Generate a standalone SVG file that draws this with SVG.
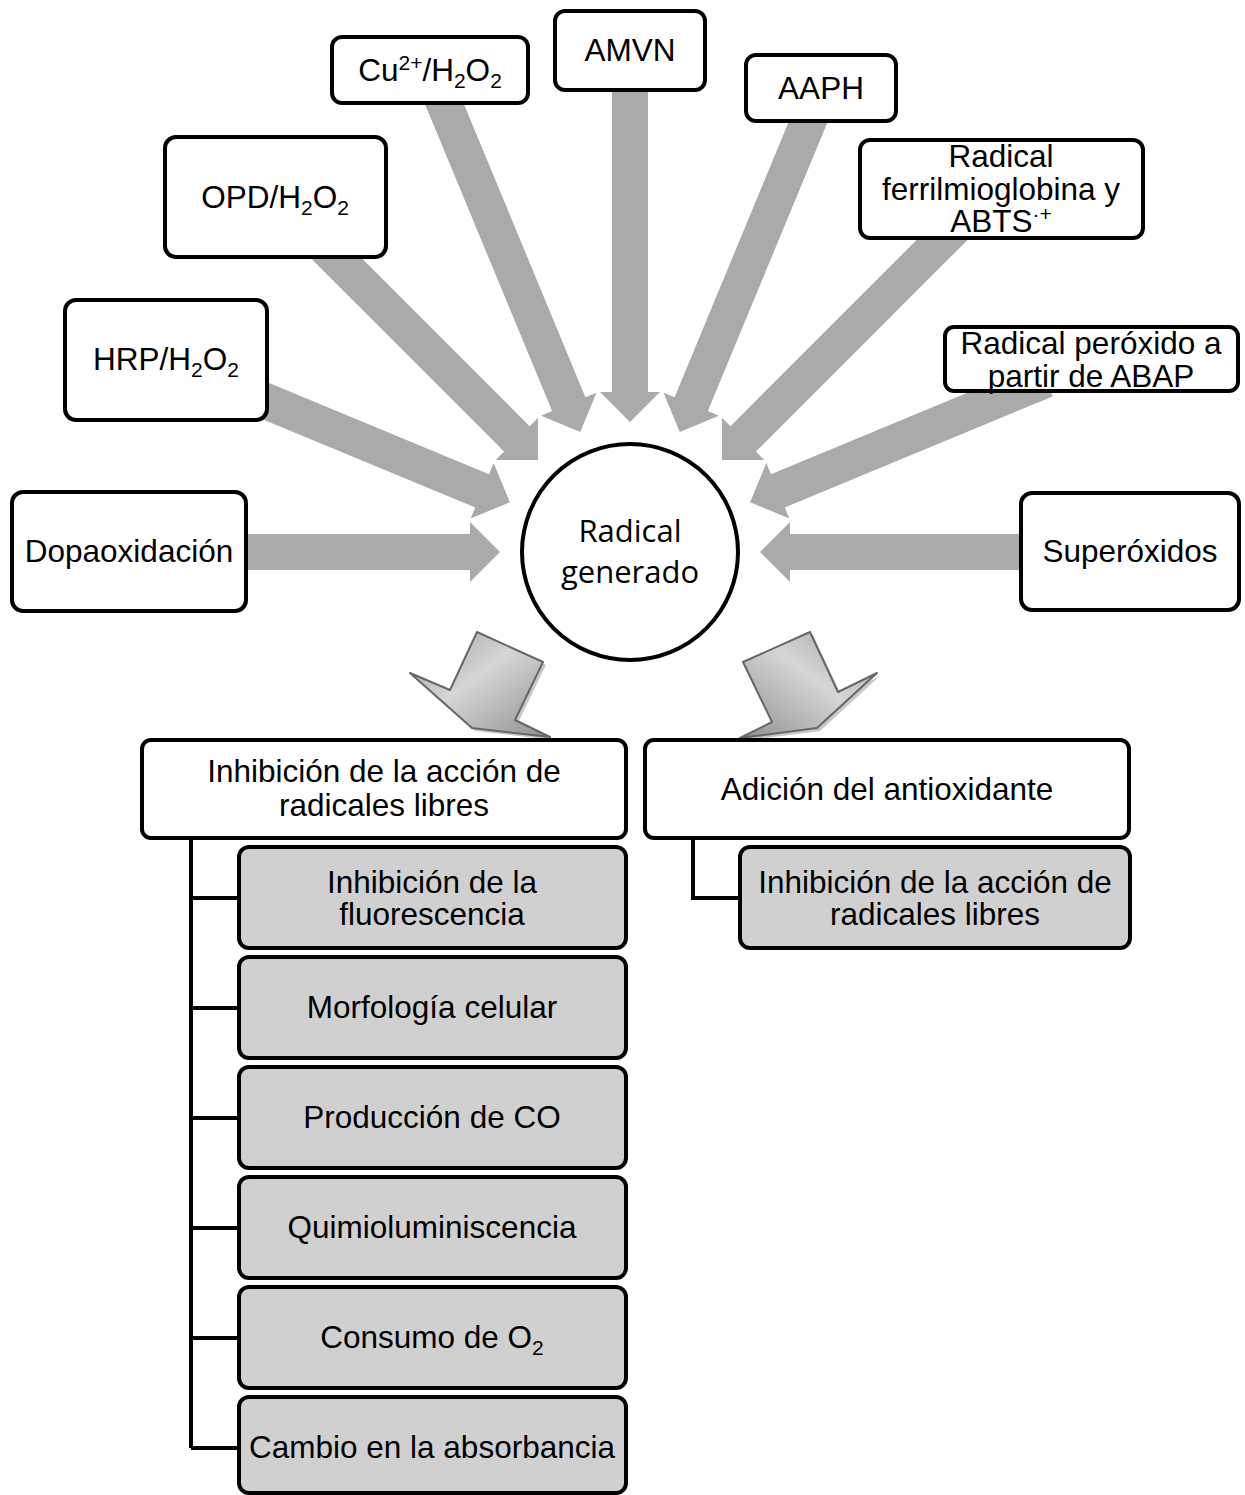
<svg xmlns="http://www.w3.org/2000/svg" width="1245" height="1495" viewBox="0 0 1245 1495">
<defs>
<style>
.box{fill:#ffffff;stroke:#000000;stroke-width:4}
.sub{fill:#d0d0d0;stroke:#000000;stroke-width:4}
.t{font-family:"Liberation Sans",Arial,sans-serif;font-size:31.5px;fill:#000000;text-anchor:middle}
.c{font-family:"Open Sans","Noto Sans",sans-serif;font-size:31px;fill:#000000;text-anchor:middle}
.arr{fill:#aaaaaa}
.line{fill:none;stroke:#000000;stroke-width:4}
.down{stroke:#666666;stroke-width:2;stroke-linejoin:round}
.shadow{fill:#888888;opacity:0.45}
</style>
<linearGradient id="gL" x1="0" y1="0" x2="1" y2="1">
<stop offset="0" stop-color="#9c9c9c"/>
<stop offset="0.45" stop-color="#d6d6d6"/>
<stop offset="1" stop-color="#8f8f8f"/>
</linearGradient>
<linearGradient id="gR" x1="1" y1="0" x2="0" y2="1">
<stop offset="0" stop-color="#9c9c9c"/>
<stop offset="0.45" stop-color="#d6d6d6"/>
<stop offset="1" stop-color="#8f8f8f"/>
</linearGradient>
</defs>
<rect width="1245" height="1495" fill="#ffffff"/>
<g id="connectors">
<g transform="translate(630,552)">
<polygon class="arr" transform="rotate(180)" points="130,0 160,-30 160,-18 410,-18 410,18 160,18 160,30"/>
<polygon class="arr" transform="rotate(202.5)" points="130,0 160,-30 160,-18 400,-18 400,18 160,18 160,30"/>
<polygon class="arr" transform="rotate(225)" points="130,0 160,-30 160,-18 450,-18 450,18 160,18 160,30"/>
<polygon class="arr" transform="rotate(247.5)" points="130,0 160,-30 160,-18 500,-18 500,18 160,18 160,30"/>
<polygon class="arr" transform="rotate(270)" points="130,0 160,-30 160,-18 500,-18 500,18 160,18 160,30"/>
<polygon class="arr" transform="rotate(292.5)" points="130,0 160,-30 160,-18 490,-18 490,18 160,18 160,30"/>
<polygon class="arr" transform="rotate(315)" points="130,0 160,-30 160,-18 470,-18 470,18 160,18 160,30"/>
<polygon class="arr" transform="rotate(337.5)" points="130,0 160,-30 160,-18 450,-18 450,18 160,18 160,30"/>
<polygon class="arr" transform="rotate(0)" points="130,0 160,-30 160,-18 420,-18 420,18 160,18 160,30"/>
</g>
<polygon class="shadow" points="480,635 546,665 518,723 553,740 475,731 413,676 453,693"/>
<polygon class="down" fill="url(#gL)" points="477,632 543,662 515,720 550,737 472,728 410,673 450,690"/>
<polygon class="shadow" points="746,665 813,635 841,695 880,676 820,731 743,741 775,725"/>
<polygon class="down" fill="url(#gR)" points="743,662 810,632 838,692 877,673 817,728 740,738 772,722"/>
<path class="line" d="M191,838 V1448 M191,898 H239 M191,1008 H239 M191,1118 H239 M191,1228 H239 M191,1338 H239 M191,1448 H239"/>
<path class="line" d="M693,838 V898 H740"/>
</g>
<g id="n-dopa"><rect class="box" x="12" y="492" width="234" height="119" rx="11"/><text class="t" x="129" y="562">Dopaoxidación</text></g>
<g id="n-hrp"><rect class="box" x="65" y="300" width="202" height="120" rx="11"/><text class="t" x="166" y="370">HRP/H<tspan font-size="21" dy="7">2</tspan><tspan dy="-7">O</tspan><tspan font-size="21" dy="7">2</tspan></text></g>
<g id="n-opd"><rect class="box" x="165" y="137" width="221" height="120" rx="11"/><text class="t" x="275" y="208">OPD/H<tspan font-size="21" dy="7">2</tspan><tspan dy="-7">O</tspan><tspan font-size="21" dy="7">2</tspan></text></g>
<g id="n-cu"><rect class="box" x="332" y="37" width="196" height="66" rx="10"/><text class="t" x="430" y="81">Cu<tspan font-size="21" dy="-11">2+</tspan><tspan dy="11">/H</tspan><tspan font-size="21" dy="7">2</tspan><tspan dy="-7">O</tspan><tspan font-size="21" dy="7">2</tspan></text></g>
<g id="n-amvn"><rect class="box" x="555" y="11" width="150" height="79" rx="10"/><text class="t" x="630" y="61">AMVN</text></g>
<g id="n-aaph"><rect class="box" x="746" y="55" width="150" height="66" rx="10"/><text class="t" x="821" y="99">AAPH</text></g>
<g id="n-ferril"><rect class="box" x="860" y="140" width="283" height="98" rx="10"/><text class="t" x="1001" y="167">Radical</text><text class="t" x="1001" y="200">ferrilmioglobina y</text><text class="t" x="1001" y="232">ABTS<tspan font-size="21" dy="-11">·+</tspan></text></g>
<g id="n-abap"><rect class="box" x="945" y="327" width="293" height="64" rx="9"/><text class="t" x="1091" y="354">Radical peróxido a</text><text class="t" x="1091" y="387">partir de ABAP</text></g>
<g id="n-super"><rect class="box" x="1021" y="493" width="218" height="117" rx="11"/><text class="t" x="1130" y="562">Superóxidos</text></g>
<g id="n-radical"><circle class="box" cx="630" cy="552" r="108"/><text class="c" x="630" y="542">Radical</text><text class="c" x="630" y="583">generado</text></g>
<g id="n-inhib-head"><rect class="box" x="142" y="740" width="484" height="98" rx="9"/><text class="t" x="384" y="782">Inhibición de la acción de</text><text class="t" x="384" y="816">radicales libres</text></g>
<g id="n-adic-head"><rect class="box" x="645" y="740" width="484" height="98" rx="9"/><text class="t" x="887" y="800">Adición del antioxidante</text></g>
<g id="n-fluor"><rect class="sub" x="239" y="847" width="387" height="101" rx="10"/><text class="t" x="432" y="893">Inhibición de la</text><text class="t" x="432" y="925">fluorescencia</text></g>
<g id="n-morf"><rect class="sub" x="239" y="957" width="387" height="101" rx="10"/><text class="t" x="432" y="1018">Morfología celular</text></g>
<g id="n-co"><rect class="sub" x="239" y="1067" width="387" height="101" rx="10"/><text class="t" x="432" y="1128">Producción de CO</text></g>
<g id="n-quimio"><rect class="sub" x="239" y="1177" width="387" height="101" rx="10"/><text class="t" x="432" y="1238">Quimioluminiscencia</text></g>
<g id="n-o2"><rect class="sub" x="239" y="1287" width="387" height="101" rx="10"/><text class="t" x="432" y="1348">Consumo de O<tspan font-size="21" dy="7">2</tspan></text></g>
<g id="n-abs"><rect class="sub" x="239" y="1397" width="387" height="96" rx="10"/><text class="t" x="432" y="1458">Cambio en la absorbancia</text></g>
<g id="n-inhib-right"><rect class="sub" x="740" y="847" width="390" height="101" rx="10"/><text class="t" x="935" y="893">Inhibición de la acción de</text><text class="t" x="935" y="925">radicales libres</text></g>
</svg>
